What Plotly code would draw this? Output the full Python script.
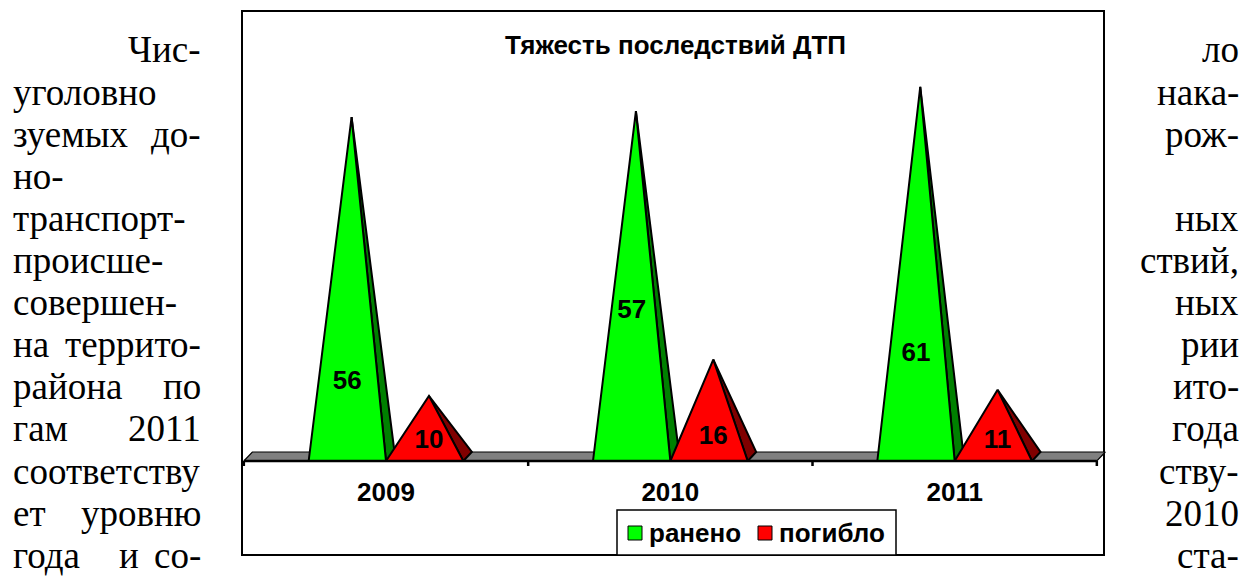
import plotly.graph_objects as go

# ---------------- data ----------------
YEARS = ["2009", "2010", "2011"]
SERIES = ["ранено", "погибло"]
WOUNDED = [56, 57, 61]
KILLED = [10, 16, 11]
TITLE = "Тяжесть последствий ДТП"

# surrounding document text (left column lines, right column line endings)
LEFT_LINES = [
    "Чис-", "уголовно", "зуемых до-", "но-", "транспорт-", "происше-",
    "совершен-", "на террито-", "района по", "гам 2011", "соответству",
    "ет уровню", "года и со-",
]
RIGHT_LINES = [
    "ло", "нака-", "рож-", "", "ных", "ствий,", "ных", "рии", "ито-",
    "года", "ству-", "2010", "ста-",
]

# ---------------- style / layout ----------------
FACE = ["#00FF00", "#FF0000"]
SIDE = ["#008000", "#800000"]
FLOOR = "#808080"

W, H = 1244, 578
CAT0_PX = 386.0      # pixel x of first category centre
CAT_PX = 284.33      # pixels per category
BASE_PX = 461.0      # pixel y of value 0 (front base edge)
UNIT_PX = 6.06       # pixels per value unit

BAR_W = 0.272                 # pyramid width in category units
DX = 8.5 / CAT_PX             # depth offset (x) in category units
DY = 9.0 / UNIT_PX            # depth offset (y) in value units

# label heights (value units) and x nudges (category units)
LABEL_Y = [[13.0, 24.6, 17.6], [3.2, 3.8, 3.2]]
LABEL_DX = [0.0, 0.015]

CHART_FONT = "Liberation Sans"
DOC_FONT = "Liberation Serif"
CF = 26
DF = 37


def pxp(px):
    return px / W


def pyp(py):
    return 1 - py / H


fig = go.Figure()

n = len(YEARS)
# floor (top face of the base slab)
fx = [-0.5, n - 0.5, n - 0.5 + DX, -0.5 + DX, -0.5]
fy = [0, 0, DY, DY, 0]
fig.add_trace(go.Scatter(x=fx, y=fy, mode="lines", fill="toself",
                         fillcolor=FLOOR, line=dict(color="#000000", width=1.2),
                         hoverinfo="skip", showlegend=False))

# pyramids
for s, values in enumerate([WOUNDED, KILLED]):
    sx, sy, frx, fry = [], [], [], []
    for i, v in enumerate(values):
        xl = i - BAR_W if s == 0 else i
        xr = xl + BAR_W
        xc = (xl + xr) / 2
        ax, ay = xc + DX / 2, v + DY / 2
        sx += [xr, xr + DX, ax, xr, None]
        sy += [0, DY, ay, 0, None]
        frx += [xl, xr, ax, xl, None]
        fry += [0, 0, ay, 0, None]
    fig.add_trace(go.Scatter(x=sx, y=sy, mode="lines", fill="toself",
                             fillcolor=SIDE[s], line=dict(color="#000000", width=2),
                             hoverinfo="skip", showlegend=False))
    fig.add_trace(go.Scatter(x=frx, y=fry, mode="lines", fill="toself",
                             fillcolor=FACE[s], line=dict(color="#000000", width=2),
                             name=SERIES[s], hoverinfo="skip", showlegend=False))

# front axis line + boundary ticks
tx, ty = [-0.5, n - 0.5, None], [0, 0, None]
for b in range(n + 1):
    tx += [b - 0.5, b - 0.5, None]
    ty += [0, -5.0 / UNIT_PX, None]
fig.add_trace(go.Scatter(x=tx, y=ty, mode="lines",
                         line=dict(color="#000000", width=2.5),
                         hoverinfo="skip", showlegend=False))

# data labels
for s, values in enumerate([WOUNDED, KILLED]):
    lx = [i - BAR_W / 2 + LABEL_DX[s] if s == 0 else i + BAR_W / 2 + LABEL_DX[s]
          for i in range(n)]
    fig.add_trace(go.Scatter(x=lx, y=LABEL_Y[s], mode="text",
                             text=[str(v) for v in values],
                             textfont=dict(family=CHART_FONT, size=CF, color="#000000",
                                           weight="bold"),
                             hoverinfo="skip", showlegend=False))

shapes = []
# chart border
shapes.append(dict(type="rect", xref="paper", yref="paper",
                   x0=pxp(242), x1=pxp(1104), y0=pyp(555), y1=pyp(11),
                   line=dict(color="#000000", width=2), fillcolor="#FFFFFF",
                   layer="below"))
# legend box
shapes.append(dict(type="rect", xref="paper", yref="paper",
                   x0=pxp(617), x1=pxp(896), y0=pyp(555), y1=pyp(510),
                   line=dict(color="#000000", width=1.5), fillcolor="#FFFFFF",
                   layer="above"))
annotations = []
leg_x = [628, 758]
for s in range(2):
    shapes.append(dict(type="rect", xref="paper", yref="paper",
                       x0=pxp(leg_x[s]), x1=pxp(leg_x[s] + 14),
                       y0=pyp(540), y1=pyp(526),
                       line=dict(color="#000000", width=1), fillcolor=FACE[s],
                       layer="above"))
    annotations.append(dict(xref="paper", yref="paper", x=pxp(leg_x[s] + 19),
                            y=pyp(533), xanchor="left", yanchor="middle",
                            text=SERIES[s], showarrow=False,
                            font=dict(family=CHART_FONT, size=CF, color="#000000",
                                      weight="bold")))

# title
annotations.append(dict(xref="paper", yref="paper", x=pxp(675), y=pyp(45),
                        xanchor="center", yanchor="middle", text=TITLE,
                        showarrow=False,
                        font=dict(family=CHART_FONT, size=CF, color="#000000",
                                  weight="bold")))

# document text
LINE0, LINE_STEP = 50, 42.1
LEFT_L, LEFT_R, RIGHT_R, MID_X = 11, 203, 1241, 129
docfont = dict(family=DOC_FONT, size=DF, color="#000000")
for k, line in enumerate(LEFT_LINES):
    yy = pyp(LINE0 + LINE_STEP * k)
    words = line.split()
    if k == 0:
        annotations.append(dict(xref="paper", yref="paper", x=pxp(LEFT_R), y=yy,
                                xanchor="right", yanchor="middle", text=line,
                                showarrow=False, font=docfont))
        continue
    if len(words) == 1:
        annotations.append(dict(xref="paper", yref="paper", x=pxp(LEFT_L), y=yy,
                                xanchor="left", yanchor="middle", text=words[0],
                                showarrow=False, font=docfont))
        continue
    annotations.append(dict(xref="paper", yref="paper", x=pxp(LEFT_L), y=yy,
                            xanchor="left", yanchor="middle", text=words[0],
                            showarrow=False, font=docfont))
    annotations.append(dict(xref="paper", yref="paper", x=pxp(LEFT_R), y=yy,
                            xanchor="right", yanchor="middle", text=words[-1],
                            showarrow=False, font=docfont))
    for m, w in enumerate(words[1:-1]):
        annotations.append(dict(xref="paper", yref="paper", x=pxp(MID_X), y=yy,
                                xanchor="center", yanchor="middle", text=w,
                                showarrow=False, font=docfont))
for k, line in enumerate(RIGHT_LINES):
    if not line:
        continue
    annotations.append(dict(xref="paper", yref="paper", x=pxp(RIGHT_R),
                            y=pyp(LINE0 + LINE_STEP * k), xanchor="right",
                            yanchor="middle", text=line, showarrow=False,
                            font=docfont))

x_range = [(0 - CAT0_PX) / CAT_PX, (W - CAT0_PX) / CAT_PX]
y_range = [-(H - BASE_PX) / UNIT_PX, BASE_PX / UNIT_PX]

fig.update_layout(
    width=W, height=H, autosize=False,
    margin=dict(l=0, r=0, t=0, b=0, pad=0),
    paper_bgcolor="#FFFFFF", plot_bgcolor="rgba(0,0,0,0)",
    showlegend=False,
    shapes=shapes, annotations=annotations,
    xaxis=dict(range=x_range, domain=[0, 1], tickvals=list(range(n)),
               ticktext=YEARS, ticks="", showgrid=False, zeroline=False,
               showline=False, anchor="free", position=pyp(462),
               ticklabelstandoff=12,
               tickfont=dict(family=CHART_FONT, size=CF, color="#000000",
                             weight="bold"),
               fixedrange=True),
    yaxis=dict(range=y_range, domain=[0, 1], showgrid=False, zeroline=False,
               showticklabels=False, ticks="", showline=False, fixedrange=True),
)

fig.write_html(
    "out.html",
    config={"displayModeBar": False, "staticPlot": True},
    post_script="document.body.style.margin='0';document.body.style.overflow='hidden';",
)
